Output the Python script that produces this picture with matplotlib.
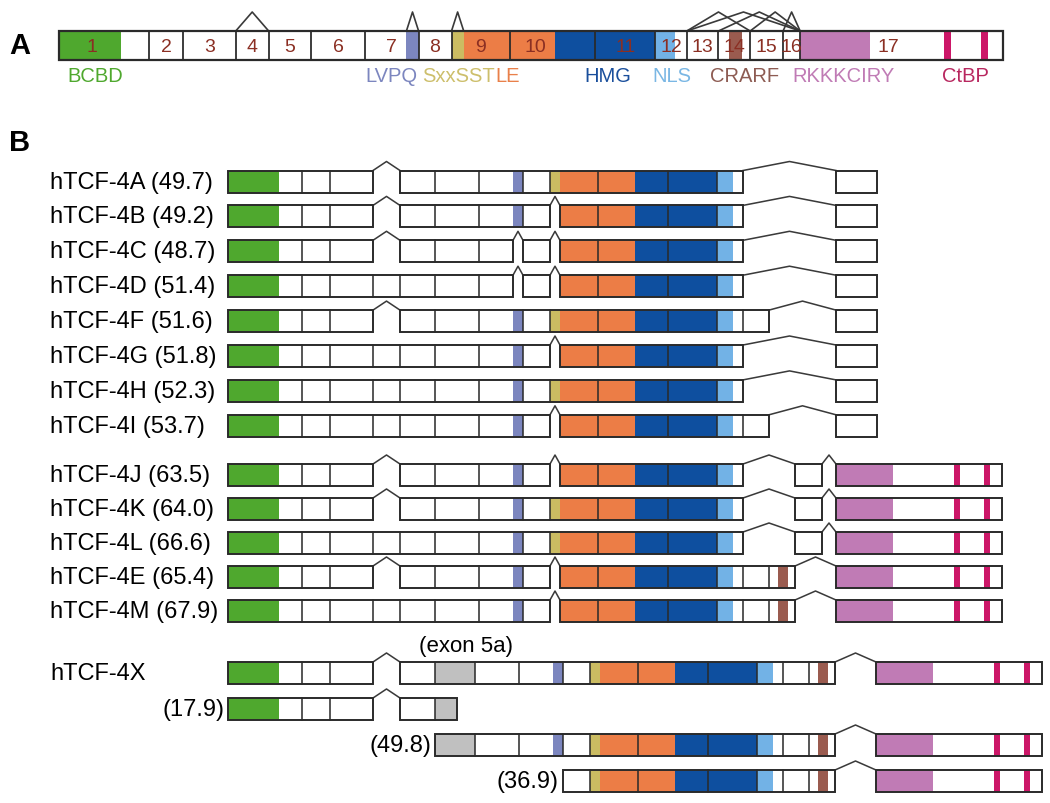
import matplotlib
matplotlib.use("Agg")
import matplotlib.pyplot as plt
from matplotlib.patches import Rectangle

plt.rcParams['font.family'] = ['Liberation Sans', 'DejaVu Sans']

# ---- exon map (lengths in schematic units) ----
seg_order = ["1", "2", "3", "4", "5", "5a", "6", "7", "LVPQ", "8", "Sxx", "9",
             "10", "11", "12", "13", "14", "15", "16", "17"]
seg_len = [74, 28, 43, 27, 35, 40, 44, 34, 10, 27, 10, 38, 70, 49, 26, 26, 26, 27, 14, 166]
# truncated versions of an exon: name -> (parent, length)
short_segs = {"5a*": ("5a", 22), "17s": ("17", 41)}
# alternative splice sites inside one exon (no boundary line between them)
joined = [("7", "LVPQ"), ("Sxx", "9")]
seg_exon = {"LVPQ": "7", "Sxx": "9"}

# ---- coloured regions inside the exons ----
fill_seg = ["1", "5a", "5a*", "LVPQ", "Sxx", "9", "10", "10", "11", "12", "14", "17", "17", "17"]
fill_start = [0, 0, 0, 0, 0, 0, 0, 37, 0, 0, 9, 0, 118, 148]
fill_len = [51, 40, 22, 10, 10, 38, 37, 33, 49, 16, 10, 57, 6, 6]
fill_domain = ["BCBD", "5a", "5a", "LVPQ", "SxxSSTLE", "orange", "orange", "HMG", "HMG",
               "NLS", "CRARF", "RKKKCIRY", "CtBP", "CtBP"]

domain_labels = ["BCBD", "LVPQ", "SxxSSTLE", "HMG", "NLS", "CRARF", "RKKKCIRY", "CtBP"]

# ---- isoforms ----
iso_names = ["hTCF-4A", "hTCF-4B", "hTCF-4C", "hTCF-4D", "hTCF-4F", "hTCF-4G", "hTCF-4H", "hTCF-4I",
             "hTCF-4J", "hTCF-4K", "hTCF-4L", "hTCF-4E", "hTCF-4M",
             "hTCF-4X", "", "", ""]
iso_kda = ["49.7", "49.2", "48.7", "51.4", "51.6", "51.8", "52.3", "53.7",
           "63.5", "64.0", "66.6", "65.4", "67.9",
           "", "17.9", "49.8", "36.9"]
iso_exons = [
    "1 2 3 5 6 7 LVPQ 8 Sxx 9 10 11 12 17s",
    "1 2 3 5 6 7 LVPQ 8 9 10 11 12 17s",
    "1 2 3 5 6 7 8 9 10 11 12 17s",
    "1 2 3 4 5 6 7 8 9 10 11 12 17s",
    "1 2 3 5 6 7 LVPQ 8 Sxx 9 10 11 12 13 17s",
    "1 2 3 4 5 6 7 LVPQ 8 9 10 11 12 17s",
    "1 2 3 4 5 6 7 LVPQ 8 Sxx 9 10 11 12 17s",
    "1 2 3 4 5 6 7 LVPQ 8 9 10 11 12 13 17s",
    "1 2 3 5 6 7 LVPQ 8 9 10 11 12 15 17",
    "1 2 3 5 6 7 LVPQ 8 Sxx 9 10 11 12 15 17",
    "1 2 3 4 5 6 7 LVPQ 8 Sxx 9 10 11 12 15 17",
    "1 2 3 5 6 7 LVPQ 8 9 10 11 12 13 14 17",
    "1 2 3 4 5 6 7 LVPQ 8 9 10 11 12 13 14 17",
    "1 2 3 5 5a 6 7 LVPQ 8 Sxx 9 10 11 12 13 14 17",
    "1 2 3 5 5a*",
    "5a 6 7 LVPQ 8 Sxx 9 10 11 12 13 14 17",
    "8 Sxx 9 10 11 12 13 14 17",
]
iso_group = [0] * 8 + [1] * 5 + [2] * 4

# ---- styles ----
colors = {"BCBD": "#4fa82e", "5a": "#c0c0c0", "LVPQ": "#7c86bf", "SxxSSTLE": "#cbbc62",
          "orange": "#ec7d46", "HMG": "#0e4f9f", "NLS": "#72b2e6", "CRARF": "#9a5b4f",
          "RKKKCIRY": "#c07bb5", "CtBP": "#cc1768"}
label_colors = {"BCBD": "#4fa82e", "LVPQ": "#7c86bf", "SxxSSTLE": "#cdbf6c", "HMG": "#1a4f9c",
                "NLS": "#7ab7e4", "CRARF": "#8d5b52", "RKKKCIRY": "#c07bb5", "CtBP": "#b8275f"}
label_nudge = {"BCBD": 4, "LVPQ": -17, "HMG": 2, "NLS": 6, "CRARF": 7, "RKKKCIRY": 7, "CtBP": 0}
num_nudge = {"1": -10, "10": -14, "17": -11}
edge = "#2a2a2a"
num_color = "#8b2f23"


def layout(with_5a, x0=228):
    pos = {}
    x = x0
    for s, L in zip(seg_order, seg_len):
        if s == "5a" and not with_5a:
            continue
        pos[s] = (x, L)
        x += L
    for s, (p, L) in short_segs.items():
        if p in pos:
            pos[s] = (pos[p][0], L)
    return pos


def blocks_of(pos, segs):
    blocks = []
    for s in segs:
        x, L = pos[s]
        if blocks and abs(blocks[-1][-1][1] + blocks[-1][-1][2] - x) < 0.5:
            blocks[-1].append((s, x, L))
        else:
            blocks.append([(s, x, L)])
    return blocks


def draw_row(ax, pos, segs, yc, h, peak_h, lw):
    top = yc - h / 2
    blocks = blocks_of(pos, segs)
    for b in blocks:
        x0 = b[0][1]
        x1 = b[-1][1] + b[-1][2]
        ax.add_patch(Rectangle((x0, top), x1 - x0, h, facecolor="white", edgecolor="none", zorder=1))
        for i, (s, x, L) in enumerate(b):
            for fs, st, fl, dom in zip(fill_seg, fill_start, fill_len, fill_domain):
                if fs == s:
                    ax.add_patch(Rectangle((x + st, top), fl, h, facecolor=colors[dom],
                                           edgecolor="none", zorder=2))
            if i > 0 and (b[i - 1][0], s) not in joined:
                ax.plot([x, x], [top, top + h], color=edge, lw=lw * 0.8, zorder=3)
        ax.add_patch(Rectangle((x0, top), x1 - x0, h, facecolor="none", edgecolor=edge,
                               lw=lw, zorder=4))
    for b0, b1 in zip(blocks[:-1], blocks[1:]):
        xa = b0[-1][1] + b0[-1][2]
        xb = b1[0][1]
        ax.plot([xa, (xa + xb) / 2, xb], [top, top - peak_h, top], color="#3a3a3a",
                lw=lw * 0.8, zorder=3)
    return blocks


fig = plt.figure(figsize=(10.5, 8.04), dpi=100)
ax = fig.add_axes([0, 0, 1, 1])
ax.set_xlim(0, 1050)
ax.set_ylim(804, 0)
ax.axis("off")

# panel A uses the same units, stretched
scaleA = 1.219
axA = fig.add_axes([0, 0, 1, 1])
axA.set_xlim(228 - 59 / scaleA, 228 + (1050 - 59) / scaleA)
axA.set_ylim(804, 0)
axA.axis("off")

# ---------------- panel A ----------------
posA = layout(False)
segsA = [s for s in seg_order if s != "5a"]
ycA, hA = 46.5, 29
draw_row(axA, posA, segsA, ycA, hA, 0, 1.6)

# splice junctions seen in any isoform
junctions = set()
for ex, g in zip(iso_exons, iso_group):
    segs = ex.split()
    bl = blocks_of(layout(g == 2), segs)
    for b0, b1 in zip(bl[:-1], bl[1:]):
        a = short_segs.get(b0[-1][0], (b0[-1][0],))[0]
        b = short_segs.get(b1[0][0], (b1[0][0],))[0]
        junctions.add((a, b))
topA = ycA - hA / 2
for a, b in sorted(junctions):
    xa = posA[a][0] + posA[a][1]
    xb = posA[b][0]
    axA.plot([xa, (xa + xb) / 2, xb], [topA, topA - 19, topA], color="#3a3a3a", lw=1.2, zorder=3)

# exon numbers
exon_ext = {}
for s in segsA:
    e = seg_exon.get(s, s)
    x, L = posA[s]
    lo, hi = exon_ext.get(e, (x, x + L))
    exon_ext[e] = (min(lo, x), max(hi, x + L))
for e, (lo, hi) in exon_ext.items():
    axA.text((lo + hi) / 2 + num_nudge.get(e, 0), ycA + 1, e, ha="center", va="center",
             fontsize=14, color=num_color, zorder=5)

# domain labels
ylab = 77
for dom in domain_labels:
    parts = [(posA[fs][0] + st, posA[fs][0] + st + fl)
             for fs, st, fl, d in zip(fill_seg, fill_start, fill_len, fill_domain)
             if d == dom and fs in posA]
    lo = min(p[0] for p in parts)
    hi = max(p[1] for p in parts)
    if dom == "SxxSSTLE":
        t1 = axA.text(lo - 24, ylab, "SxxSST", ha="left", va="center", fontsize=14.5,
                      color=label_colors[dom])
        axA.annotate("LE", xy=(1, 0), xycoords=t1, ha="left", va="bottom", fontsize=14.5,
                     color="#e9804a")
    else:
        axA.text((lo + hi) / 2 + label_nudge[dom], ylab, dom, ha="center", va="center",
                 fontsize=14.5, color=label_colors[dom])

ax.text(20, 46, "A", ha="center", va="center", fontsize=21, fontweight="bold")
ax.text(20, 143, "B", ha="center", va="center", fontsize=21, fontweight="bold")

# ---------------- panel B ----------------
group_y0 = [182.5, 476, 674]
group_step = [34.9, 34, 36]
counters = [0, 0, 0]
hB = 22
for name, kda, ex, g in zip(iso_names, iso_kda, iso_exons, iso_group):
    yc = group_y0[g] + group_step[g] * counters[g]
    counters[g] += 1
    pos = layout(g == 2)
    segs = ex.split()
    bl = draw_row(ax, pos, segs, yc, hB, 9, 1.4)
    if name:
        lab = f"{name} ({kda})" if kda else name
        ax.text(50, yc, lab, ha="left", va="center", fontsize=17)
    else:
        ax.text(bl[0][0][1] - 4, yc, f"({kda})", ha="right", va="center", fontsize=17)
    if name == "hTCF-4X":
        x5a, L5a = pos["5a"]
        ax.text(x5a + L5a / 2 + 11, yc - hB / 2 - 16, "(exon 5a)", ha="center", va="center",
                fontsize=16)

fig.savefig("out.png", dpi=100)
